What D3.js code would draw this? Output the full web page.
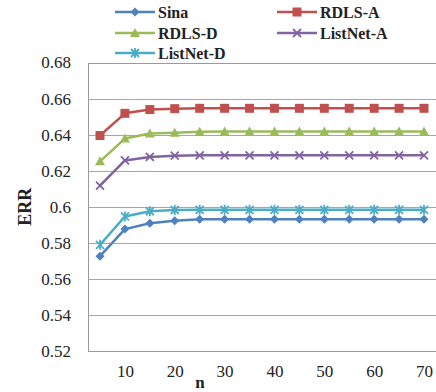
<!DOCTYPE html>
<html>
<head>
<meta charset="utf-8">
<script src="https://cdn.jsdelivr.net/npm/d3@7"></script>
<style>
  body { margin: 0; background: #fff; }
  svg text { font-family: "Liberation Serif", "Times New Roman", "DejaVu Serif", serif !important; }
</style>
</head>
<body>
<div id="chart"></div>
<script>
const nValues = [5, 10, 15, 20, 25, 30, 35, 40, 45, 50, 55, 60, 65, 70]
const xTickLabels = [10, 20, 30, 40, 50, 60, 70]
const yTicks = [0.52, 0.54, 0.56, 0.58, 0.6, 0.62, 0.64, 0.66, 0.68]

const sina = [0.5726, 0.5876, 0.5908, 0.5923, 0.5930, 0.5931, 0.5931, 0.5931, 0.5931, 0.5931, 0.5931, 0.5931, 0.5931, 0.5931]
const rdlsA = [0.6395, 0.6518, 0.6539, 0.6544, 0.6546, 0.6546, 0.6546, 0.6546, 0.6546, 0.6546, 0.6546, 0.6546, 0.6546, 0.6546]
const rdlsD = [0.6252, 0.6378, 0.6406, 0.6411, 0.6416, 0.6417, 0.6417, 0.6417, 0.6417, 0.6417, 0.6417, 0.6417, 0.6417, 0.6417]
const listNetA = [0.6117, 0.6257, 0.6276, 0.6283, 0.6285, 0.6285, 0.6285, 0.6285, 0.6285, 0.6285, 0.6285, 0.6285, 0.6285, 0.6285]
const listNetD = [0.5789, 0.5946, 0.5975, 0.5982, 0.5983, 0.5983, 0.5983, 0.5983, 0.5983, 0.5983, 0.5983, 0.5983, 0.5983, 0.5983]

const series = [
  { id: 'Sina', values: sina, color: '#4f81bd', marker: 'diamond' },
  { id: 'RDLS-A', values: rdlsA, color: '#c0504d', marker: 'square' },
  { id: 'RDLS-D', values: rdlsD, color: '#9bbb59', marker: 'triangle' },
  { id: 'ListNet-A', values: listNetA, color: '#8064a2', marker: 'x' },
  { id: 'ListNet-D', values: listNetD, color: '#4bacc6', marker: 'star' }
]

const width = 436
const height = 392
const margin = { top: 62.5, right: -1, bottom: 41, left: 88 }

const svg = d3.select('#chart')
  .append('svg')
  .attr('width', width)
  .attr('height', height)
  .style('display', 'block')

// scales
const x = d3.scalePoint()
  .domain(nValues)
  .range([margin.left + 12, width - margin.right - 13])

const y = d3.scaleLinear()
  .domain([0.52, 0.68])
  .range([height - margin.bottom, margin.top])

// gridlines
svg.append('g')
  .attr('class', 'grid')
  .selectAll('line')
  .data(yTicks)
  .join('line')
  .attr('x1', margin.left)
  .attr('x2', width - margin.right)
  .attr('y1', d => Math.round(y(d)) + 0.5)
  .attr('y2', d => Math.round(y(d)) + 0.5)
  .attr('stroke', '#a6a6a6')
  .attr('stroke-width', 1)

// plot border
svg.append('rect')
  .attr('x', margin.left + 0.5)
  .attr('y', Math.round(y(0.68)) + 0.5)
  .attr('width', width - margin.right - margin.left)
  .attr('height', Math.round(y(0.52)) - Math.round(y(0.68)))
  .attr('fill', 'none')
  .attr('stroke', '#9a9a9a')

// Y axis
const yAxis = svg.append('g')
  .attr('transform', `translate(${margin.left},0)`)
  .call(d3.axisLeft(y).tickValues(yTicks).tickSize(0).tickPadding(17)
    .tickFormat(d => String(+d.toFixed(2))))
yAxis.select('.domain').remove()
yAxis.selectAll('text')
  .attr('font-size', 17)
  .attr('fill', '#222')

// X axis labels
const xAxis = svg.append('g')
  .attr('transform', `translate(0,${height - margin.bottom})`)
  .call(d3.axisBottom(x).tickValues(xTickLabels).tickSize(0).tickPadding(14))
xAxis.select('.domain').remove()
xAxis.selectAll('text')
  .attr('font-size', 17)
  .attr('fill', '#222')

// axis titles
svg.append('text')
  .attr('transform', `translate(31,${y(0.6)}) rotate(-90)`)
  .attr('text-anchor', 'middle')
  .attr('font-size', 18)
  .attr('font-weight', 'bold')
  .attr('fill', '#222')
  .text('ERR')

svg.append('text')
  .attr('x', 200)
  .attr('y', 388)
  .attr('text-anchor', 'middle')
  .attr('font-size', 17)
  .attr('font-weight', 'bold')
  .attr('fill', '#222')
  .text('n')

// markers
const drawMarker = (g, type, color) => {
  if (type === 'diamond') {
    g.append('path').attr('d', 'M0,-4.5L4.5,0L0,4.5L-4.5,0Z').attr('fill', color)
  } else if (type === 'square') {
    g.append('rect').attr('x', -4.5).attr('y', -4.5).attr('width', 9).attr('height', 9).attr('fill', color)
  } else if (type === 'triangle') {
    g.append('path').attr('d', 'M0,-5L5,4L-5,4Z').attr('fill', color)
  } else if (type === 'x') {
    g.append('path').attr('d', 'M-4,-4L4,4M-4,4L4,-4').attr('stroke', color).attr('stroke-width', 1.8).attr('fill', 'none')
  } else if (type === 'star') {
    g.append('path').attr('d', 'M-4,-4L4,4M-4,4L4,-4M0,-5L0,5').attr('stroke', color).attr('stroke-width', 1.8).attr('fill', 'none')
  }
}

// lines
const line = d3.line()
  .x((d, i) => x(nValues[i]))
  .y(d => y(d))

const lines = svg.append('g').attr('class', 'lines')
series.forEach(s => {
  const g = lines.append('g').attr('class', s.id)
  g.append('path')
    .attr('d', line(s.values))
    .attr('fill', 'none')
    .attr('stroke', s.color)
    .attr('stroke-width', 2.5)
    .attr('stroke-linejoin', 'round')
  g.selectAll('g.pt')
    .data(s.values)
    .join('g')
    .attr('class', 'pt')
    .attr('transform', (d, i) => `translate(${x(nValues[i])},${y(d)})`)
    .each(function () { drawMarker(d3.select(this), s.marker, s.color) })
})

// legend
const legendPos = [[115, 12], [277, 12], [115, 33], [277, 33], [115, 53]]
const legend = svg.append('g').attr('class', 'legend')
series.forEach((s, i) => {
  const [lx, ly] = legendPos[i]
  const g = legend.append('g').attr('transform', `translate(${lx},${ly})`)
  g.append('line').attr('x1', 0).attr('x2', 40).attr('stroke', s.color).attr('stroke-width', 2.5)
  const m = g.append('g').attr('transform', 'translate(20,0)')
  drawMarker(m, s.marker, s.color)
  g.append('text')
    .attr('x', 43)
    .attr('dy', '0.35em')
    .attr('font-size', 16)
    .attr('font-weight', 'bold')
    .attr('fill', '#222')
    .text(s.id)
})
</script>
</body>
</html>
